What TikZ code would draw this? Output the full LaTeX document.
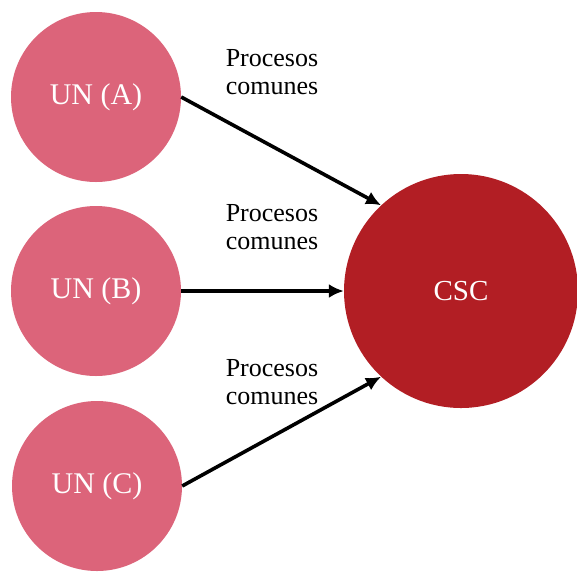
\documentclass[tikz,border=0pt]{standalone}
\usepackage{fontspec}
\setmainfont{Liberation Serif}
\usetikzlibrary{arrows.meta}
\definecolor{unpink}{RGB}{220,100,122}
\definecolor{cscred}{RGB}{178,30,36}
\begin{document}
\begin{tikzpicture}[x=1pt,y=-1pt,
  unnode/.style={circle,fill=unpink,minimum size=170pt,inner sep=0pt,text=white,font=\fontsize{30}{32}\selectfont},
  cscnode/.style={circle,fill=cscred,minimum size=234pt,inner sep=0pt,text=white,font=\fontsize{29}{32}\selectfont},
  lbl/.style={align=center,font=\fontsize{26}{28}\selectfont,inner sep=0pt},
  conn/.style={line width=3.6pt,-{Latex[length=15pt,width=14pt]}}]
\useasboundingbox (0,0) rectangle (577,574);
\node[unnode] (A) at (96,97) {UN (A)};
\node[unnode] (B) at (96,291) {UN (B)};
\node[unnode] (C) at (97,486) {UN (C)};
\node[cscnode] (CSC) at (461,291) {CSC};
\node[lbl] (LA) at (272,72) {Procesos\\comunes};
\node[lbl] (LB) at (272,227) {Procesos\\comunes};
\node[lbl] (LC) at (272,382) {Procesos\\comunes};
\draw[conn] (A.east) -- (CSC.133);
\draw[conn] (B.east) -- (CSC.west);
\draw[conn] (C.east) -- (CSC.227);
\end{tikzpicture}
\end{document}
